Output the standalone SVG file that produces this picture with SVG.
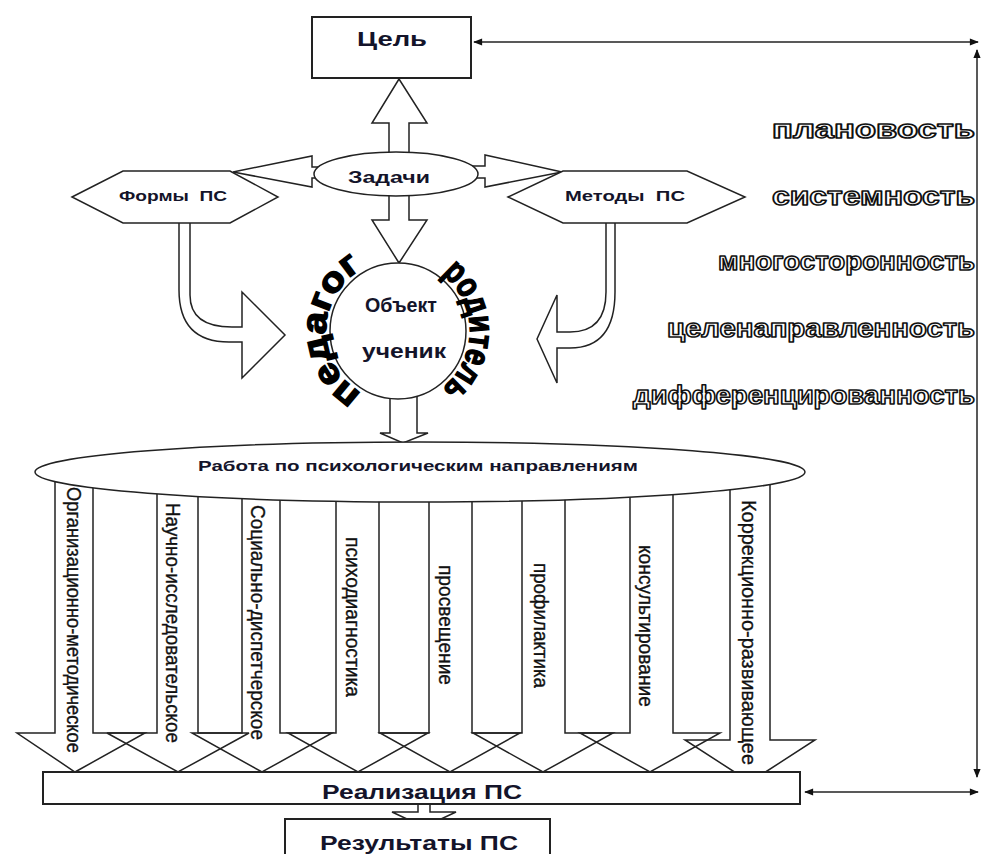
<svg xmlns="http://www.w3.org/2000/svg" width="982" height="854" viewBox="0 0 982 854">
<style>
.ln{fill:none;stroke:#222;stroke-width:1.5;stroke-linejoin:miter}
.wf{fill:#fff;stroke:#222;stroke-width:1.5}
.bx{fill:#fff;stroke:#222;stroke-width:2}
.lbl{font-family:"Liberation Sans",Arial,sans-serif;font-weight:bold;fill:#14142a;text-anchor:middle}
.vt{font-family:"Liberation Sans",Arial,sans-serif;font-size:21px;fill:#111;stroke:#111;stroke-width:0.35}
.ol{font-family:"Liberation Sans",Arial,sans-serif;font-weight:bold;font-size:25px;fill:#fff;stroke:#111;stroke-width:1.5;stroke-linejoin:round;text-anchor:end}
.arc{font-family:"Liberation Sans",Arial,sans-serif;font-weight:900;font-size:35px;fill:#000;stroke:#000;stroke-width:1.5}
.dbl{fill:none;stroke:#222;stroke-width:1.5;marker-start:url(#ah);marker-end:url(#ah)}
</style>
<defs>
<marker id="ah" viewBox="0 0 10 10" refX="9" refY="5" markerUnits="userSpaceOnUse" markerWidth="11" markerHeight="9" orient="auto-start-reverse">
<path d="M0,1 L10,5 L0,9 z" fill="#111"/>
</marker>
<path id="pPed" d="M385.5,401.9 A72,72 0 0 1 385.5,260.1"/>
<path id="pRod" d="M410.5,260.1 A72,72 0 0 1 410.5,401.9"/>
</defs>
<rect width="982" height="854" fill="#fff"/>

<g id="connectors">
  <polygon class="wf" points="389,160 389,123 372,123 399,79 427,123 409,123 409,160"/>
  <polygon class="wf" points="389,190 389,220 372,220 399,263 427,220 409,220 409,190"/>
  <polygon class="wf" points="320,167 312,167 312,156 233,172 312,187 312,178 320,178"/>
  <polygon class="wf" points="472,166 485,166 485,155 562,172 485,187 485,178 472,178"/>
  <path class="wf" d="M179,223 L179,290 Q179,342 229,342 L242,342 L242,378 L285,335 L242,292 L242,327 L232,327 Q190,327 190,295 L190,223"/>
  <path class="wf" d="M606,223 L606,292 Q606,332 570,332 L557,332 L557,295 L537,339 L557,383 L557,348 L570,348 Q615,348 615,292 L615,223"/>
  <polygon class="wf" points="390,395 390,433 380,433 403,443 428,433 417,433 417,395"/>
  <g id="dirArrows">
    <polygon class="ln" points="55,470 55,733 17,733 75,772 145,733 93,733 93,470"/>
    <polygon class="ln" points="157,470 157,733 107,733 178,772 249,733 198,733 198,470"/>
    <polygon class="ln" points="242,470 242,733 192,733 262,772 332,733 280,733 280,470"/>
    <polygon class="ln" points="336,470 336,733 288,733 358,772 428,733 379,733 379,470"/>
    <polygon class="ln" points="429,470 429,733 380,733 450,772 520,733 472,733 472,470"/>
    <polygon class="ln" points="522,470 522,733 473,733 543,772 613,733 565,733 565,470"/>
    <polygon class="ln" points="630,470 630,733 580,733 650,772 720,733 673,733 673,470"/>
    <polygon class="ln" points="730,470 730,740 685,740 750,782 815,740 770,740 770,470"/>
  </g>
  <polygon class="wf" points="418,800 418,812 392,812 424,827 456,812 430,812 430,800"/>
  <line class="dbl" x1="474" y1="42" x2="978" y2="42"/>
  <line class="dbl" x1="977" y1="50" x2="977" y2="777"/>
  <line class="dbl" x1="805" y1="792" x2="978" y2="792"/>
</g>

<g id="goal">
  <rect class="bx" x="312" y="17" width="159" height="61"/>
  <text class="lbl" x="392" y="46" font-size="20" textLength="70" lengthAdjust="spacingAndGlyphs">Цель</text>
</g>

<g id="tasks">
  <ellipse class="wf" cx="396" cy="174" rx="82" ry="22"/>
  <text class="lbl" x="389" y="183" font-size="17" textLength="82" lengthAdjust="spacingAndGlyphs">Задачи</text>
</g>

<g id="forms">
  <polygon class="wf" points="72,197 123,171 230,171 278,197 230,223 123,223"/>
  <text class="lbl" x="173" y="201" font-size="14" textLength="108" lengthAdjust="spacingAndGlyphs" xml:space="preserve">Формы  ПС</text>
</g>

<g id="methods">
  <polygon class="wf" points="508,197 563,171 687,171 745,197 687,223 563,223"/>
  <text class="lbl" x="625" y="201" font-size="14" textLength="120" lengthAdjust="spacingAndGlyphs" xml:space="preserve">Методы  ПС</text>
</g>

<g id="object">
  <circle class="wf" cx="398" cy="331" r="68"/>
  <text class="lbl" x="401" y="312" font-size="20" textLength="72" lengthAdjust="spacingAndGlyphs">Объект</text>
  <text class="lbl" x="404" y="358" font-size="20" textLength="84" lengthAdjust="spacingAndGlyphs">ученик</text>
  <text class="arc"><textPath href="#pPed" startOffset="50%" text-anchor="middle" textLength="150" lengthAdjust="spacingAndGlyphs">педагог</textPath></text>
  <text class="arc"><textPath href="#pRod" startOffset="50%" text-anchor="middle" textLength="132" lengthAdjust="spacingAndGlyphs">родитель</textPath></text>
</g>

<g id="work">
  <ellipse class="wf" cx="420" cy="472" rx="385" ry="30"/>
  <text class="lbl" x="418" y="471" font-size="14" textLength="440" lengthAdjust="spacingAndGlyphs">Работа по психологическим направлениям</text>
</g>

<g id="directions">
  <text class="vt" transform="translate(73,487) rotate(90)" y="6" textLength="266" lengthAdjust="spacingAndGlyphs">Организационно-методическое</text>
  <text class="vt" transform="translate(172,503) rotate(90)" y="6" textLength="240" lengthAdjust="spacingAndGlyphs">Научно-исследовательское</text>
  <text class="vt" transform="translate(257,505) rotate(90)" y="6" textLength="235" lengthAdjust="spacingAndGlyphs">Социально-диспетчерское</text>
  <text class="vt" transform="translate(352,537) rotate(90)" y="6" textLength="160" lengthAdjust="spacingAndGlyphs">психодиагностика</text>
  <text class="vt" transform="translate(445,565) rotate(90)" y="6" textLength="120" lengthAdjust="spacingAndGlyphs">просвещение</text>
  <text class="vt" transform="translate(540,563) rotate(90)" y="6" textLength="125" lengthAdjust="spacingAndGlyphs">профилактика</text>
  <text class="vt" transform="translate(645,545) rotate(90)" y="6" textLength="162" lengthAdjust="spacingAndGlyphs">консультирование</text>
  <text class="vt" transform="translate(748,500) rotate(90)" y="6" textLength="265" lengthAdjust="spacingAndGlyphs">Коррекционно-развивающее</text>
</g>

<g id="principles">
  <text class="ol" x="975" y="138" textLength="203" lengthAdjust="spacingAndGlyphs">плановость</text>
  <text class="ol" x="975" y="205" textLength="203" lengthAdjust="spacingAndGlyphs">системность</text>
  <text class="ol" x="975" y="270" textLength="257" lengthAdjust="spacingAndGlyphs">многосторонность</text>
  <text class="ol" x="975" y="337" textLength="308" lengthAdjust="spacingAndGlyphs">целенаправленность</text>
  <text class="ol" x="975" y="404" textLength="342" lengthAdjust="spacingAndGlyphs">дифференцированность</text>
</g>

<g id="realization">
  <rect class="bx" x="43" y="772" width="757" height="32"/>
  <text class="lbl" x="422" y="799" font-size="20" textLength="200" lengthAdjust="spacingAndGlyphs">Реализация ПС</text>
</g>

<g id="results">
  <rect class="bx" x="285" y="819" width="265" height="45"/>
  <text class="lbl" x="419" y="850" font-size="20" textLength="198" lengthAdjust="spacingAndGlyphs">Результаты ПС</text>
</g>
</svg>
